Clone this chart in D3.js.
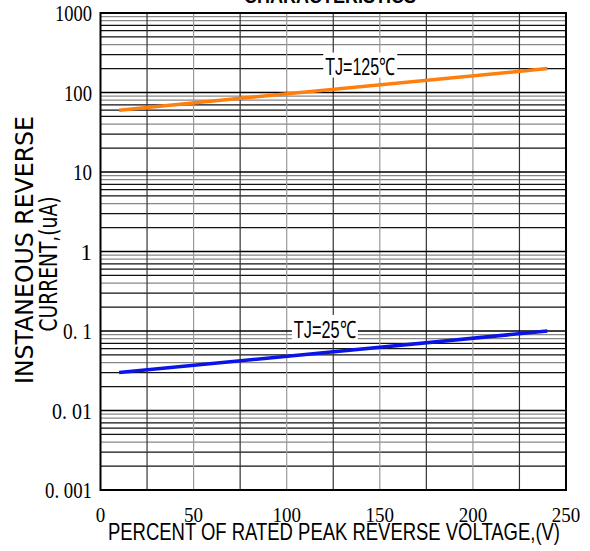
<!DOCTYPE html>
<html lang="en">
  <head>
    <meta charset="UTF-8" />
    <script src="https://d3js.org/d3.v7.min.js"></script>
    <title>Reverse characteristics</title>
    <style>
      body { margin: 0; background: #fff; }
    </style>
  </head>
  <body>
    <script>
      // data
      const xTicks = [0, 50, 100, 150, 200, 250];
      const yTicks = [0.001, 0.01, 0.1, 1, 10, 100, 1000];
      const yTickLabels = ["0. 001", "0. 01", "0. 1", "1", "10", "100", "1000"];
      const yLabelWidths = [47, 40, 29, 0, 19, 28, 37];
      const voltagePct = [10, 240];
      const current125 = [60, 200];
      const current25 = [0.03, 0.1];
      const seriesNames = ["TJ=125℃", "TJ=25℃"];

      const W = 590, H = 551;
      const pLeft = 100.5, pRight = 566, pTop = 13, pBottom = 490;

      let svg = d3.select("body").append("svg").attr("width", W).attr("height", H);

      let x = d3.scaleLinear().domain([0, 250]).range([pLeft, pRight]);
      let y = d3.scaleLog().domain([0.001, 1000]).range([pBottom, pTop]);

      // minor horizontal grid
      let minor = [];
      for (let d = -3; d < 3; d++) {
        for (let m = 2; m <= 9; m++) minor.push([m * Math.pow(10, d), m]);
      }
      svg.append("g").selectAll("line").data(minor).enter().append("line")
        .attr("x1", pLeft).attr("x2", pRight)
        .attr("y1", d => y(d[0])).attr("y2", d => y(d[0]))
        .attr("stroke", d => (d[1] >= 8 || d[1] == 4 ? "#888" : "#111"))
        .attr("stroke-width", 1.2);

      // vertical grid every 25
      let vgrid = d3.range(25, 250, 25);
      svg.append("g").selectAll("line").data(vgrid).enter().append("line")
        .attr("x1", d => x(d)).attr("x2", d => x(d))
        .attr("y1", pTop).attr("y2", pBottom)
        .attr("stroke", d => (d % 50 == 0 ? "#999" : "#333"))
        .attr("stroke-width", 1.2);

      // decade lines
      svg.append("g").selectAll("line").data(yTicks).enter().append("line")
        .attr("x1", pLeft).attr("x2", pRight)
        .attr("y1", d => y(d)).attr("y2", d => y(d))
        .attr("stroke", "#000").attr("stroke-width", 1.4);

      svg.append("rect")
        .attr("x", pLeft).attr("y", pTop)
        .attr("width", pRight - pLeft).attr("height", pBottom - pTop)
        .attr("fill", "none").attr("stroke", "#000").attr("stroke-width", 2);

      // series
      const line = d3.line().x(d => x(d[0])).y(d => y(d[1]));
      svg.append("path")
        .datum(voltagePct.map((v, i) => [v, current125[i]]))
        .attr("d", line).attr("fill", "none")
        .attr("stroke", "#ff7f0e").attr("stroke-width", 3.5);
      svg.append("path")
        .datum(voltagePct.map((v, i) => [v, current25[i]]))
        .attr("d", line).attr("fill", "none")
        .attr("stroke", "#0a14e6").attr("stroke-width", 3.5);

      // series labels with white box
      const labels = [
        { text: seriesNames[0], v: 139.5, val: 200, w: 74 },
        { text: seriesNames[1], v: 120.5, val: 0.1, w: 66 }
      ];
      labels.forEach(l => {
        let cx = x(l.v), cy = y(l.val);
        svg.append("rect")
          .attr("x", cx - l.w / 2).attr("y", cy - 16)
          .attr("width", l.w).attr("height", 25).attr("fill", "#fff");
        svg.append("text")
          .attr("x", cx).attr("y", cy + 6.5)
          .attr("text-anchor", "middle")
          .attr("font-family", "Liberation Sans Narrow, Liberation Sans, sans-serif")
          .attr("font-size", 24)
          .attr("textLength", l.w - 4).attr("lengthAdjust", "spacingAndGlyphs")
          .text(l.text);
      });

      // tick labels
      svg.append("g").selectAll("text").data(xTicks).enter().append("text")
        .attr("x", d => x(d)).attr("y", 522)
        .attr("text-anchor", "middle")
        .attr("font-family", "Liberation Serif, serif")
        .attr("font-size", 22)
        .attr("textLength", d => String(d).length * 9.5)
        .attr("lengthAdjust", "spacingAndGlyphs")
        .text(d => d);

      svg.append("g").selectAll("text").data(yTicks).enter().append("text")
        .attr("x", 92).attr("y", d => y(d) + 8)
        .attr("text-anchor", "end")
        .attr("font-family", "Liberation Serif, serif")
        .attr("font-size", 23)
        .each(function (d, i) {
          if (yLabelWidths[i] > 0)
            d3.select(this).attr("textLength", yLabelWidths[i]).attr("lengthAdjust", "spacingAndGlyphs");
        })
        .text((d, i) => yTickLabels[i]);

      // axis titles
      svg.append("text")
        .attr("x", 334).attr("y", 540)
        .attr("text-anchor", "middle")
        .attr("font-family", "Liberation Sans Narrow, Liberation Sans, sans-serif")
        .attr("font-size", 24)
        .attr("textLength", 452).attr("lengthAdjust", "spacingAndGlyphs")
        .text("PERCENT OF RATED PEAK REVERSE VOLTAGE,(V)");

      let yt = svg.append("g").attr("transform", "translate(0,250) rotate(-90)");
      yt.append("text")
        .attr("x", 0).attr("y", 33)
        .attr("text-anchor", "middle")
        .attr("font-family", "DejaVu Sans, sans-serif")
        .attr("font-size", 24)
        .attr("textLength", 268).attr("lengthAdjust", "spacingAndGlyphs")
        .text("INSTANEOUS REVERSE");
      yt.append("text")
        .attr("x", -14).attr("y", 57)
        .attr("text-anchor", "middle")
        .attr("font-family", "DejaVu Sans, sans-serif")
        .attr("font-size", 24)
        .attr("textLength", 135).attr("lengthAdjust", "spacingAndGlyphs")
        .text("CURRENT,(uA)");

      // clipped title at top
      svg.append("text")
        .attr("x", 330).attr("y", 3)
        .attr("text-anchor", "middle")
        .attr("font-family", "Liberation Sans, sans-serif")
        .attr("font-weight", "bold")
        .attr("font-size", 20)
        .attr("textLength", 172).attr("lengthAdjust", "spacingAndGlyphs")
        .text("CHARACTERISTICS");
    </script>
  </body>
</html>
